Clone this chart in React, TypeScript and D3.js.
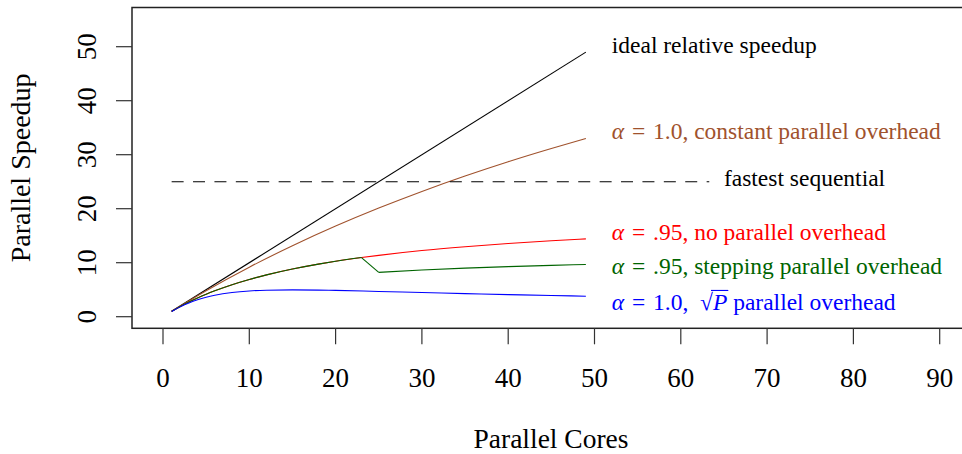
import React, { useRef, useEffect } from 'react';
import * as d3 from 'd3';

// axis ticks
const xTicks = [0, 10, 20, 30, 40, 50, 60, 70, 80, 90];
const yTicks = [0, 10, 20, 30, 40, 50];

// ideal relative speedup
const idealCores = [1, 49];
const idealSpeedup = [1, 49];

// alpha = 1.0, constant parallel overhead
const constCores = [1, 5, 10, 15, 20, 25, 30, 35, 40, 45, 49];
const constSpeedup = [1, 4.81, 9.17, 13.14, 16.78, 20.12, 23.2, 26.05, 28.7, 31.15, 33.0];

// alpha = .95, no parallel overhead
const amdahlCores = [1, 2, 3, 4, 5, 6, 8, 10, 12, 15, 18, 20, 23, 25, 30, 35, 40, 45, 49];
const amdahlSpeedup = [1, 1.9, 2.73, 3.48, 4.17, 4.8, 5.93, 6.9, 7.74, 8.82, 9.73, 10.26, 10.95, 11.36, 12.25, 12.96, 13.56, 14.06, 14.41];

// alpha = .95, stepping parallel overhead (before / after the step)
const stepCoresLow = [1, 2, 3, 4, 5, 6, 8, 10, 12, 15, 18, 20, 23];
const stepSpeedupLow = [1, 1.9, 2.73, 3.48, 4.17, 4.8, 5.93, 6.9, 7.74, 8.82, 9.73, 10.26, 10.95];
const stepCoresHigh = [25, 30, 35, 40, 45, 49];
const stepSpeedupHigh = [8.2, 8.65, 9.0, 9.28, 9.51, 9.67];

// alpha = 1.0, sqrt(P) parallel overhead
const sqrtCores = [1, 2, 3, 4, 5, 6, 8, 10, 12, 15, 18, 20, 25, 30, 35, 40, 45, 49];
const sqrtSpeedup = [0.97, 1.82, 2.54, 3.13, 3.6, 3.97, 4.48, 4.77, 4.91, 4.97, 4.93, 4.87, 4.68, 4.48, 4.28, 4.09, 3.92, 3.8];

// fastest sequential
const seqCores = [1, 63.3];
const seqSpeedup = [25, 25];

const FONT = "'Liberation Serif', 'Times New Roman', serif";

const App = () => {
  const svgRef = useRef<SVGSVGElement>(null);

  useEffect(() => {
    draw();
  }, []);

  const draw = () => {
    const svg = d3.select(svgRef.current);
    svg.selectAll('*').remove();

    const x = d3.scaleLinear().domain([0, 90]).range([163, 939.7]);
    const y = d3.scaleLinear().domain([0, 50]).range([316.7, 46.7]);

    const boxTop = 7.5;
    const boxBottom = 328.3;
    const boxLeft = 132;

    // plot box (right side runs past the picture)
    svg.append('rect')
      .attr('x', boxLeft)
      .attr('y', boxTop)
      .attr('width', 840)
      .attr('height', boxBottom - boxTop)
      .attr('fill', 'none')
      .attr('stroke', '#222')
      .attr('stroke-width', 1.5);

    // x axis ticks + labels
    svg.append('g').selectAll('line')
      .data(xTicks).enter().append('line')
      .attr('x1', d => x(d)).attr('x2', d => x(d))
      .attr('y1', boxBottom).attr('y2', boxBottom + 16)
      .attr('stroke', '#333').attr('stroke-width', 1.2);
    svg.append('g').selectAll('text')
      .data(xTicks).enter().append('text')
      .attr('x', d => x(d)).attr('y', 386.7)
      .attr('text-anchor', 'middle')
      .style('font-family', FONT).style('font-size', '27px')
      .text(d => d);

    // y axis ticks + labels
    svg.append('g').selectAll('line')
      .data(yTicks).enter().append('line')
      .attr('x1', boxLeft - 16).attr('x2', boxLeft)
      .attr('y1', d => y(d)).attr('y2', d => y(d))
      .attr('stroke', '#333').attr('stroke-width', 1.2);
    svg.append('g').selectAll('text')
      .data(yTicks).enter().append('text')
      .attr('transform', d => `translate(96,${y(d)})rotate(-90)`)
      .attr('text-anchor', 'middle')
      .style('font-family', FONT).style('font-size', '27px')
      .text(d => d);

    // axis titles
    svg.append('text')
      .attr('x', 551).attr('y', 448)
      .attr('text-anchor', 'middle')
      .style('font-family', FONT).style('font-size', '27.5px')
      .text('Parallel Cores');
    svg.append('text')
      .attr('transform', `translate(30,${(boxTop + boxBottom) / 2})rotate(-90)`)
      .attr('text-anchor', 'middle')
      .style('font-family', FONT).style('font-size', '28px')
      .text('Parallel Speedup');

    const line = d3.line<[number, number]>()
      .x(d => x(d[0]))
      .y(d => y(d[1]))
      .curve(d3.curveMonotoneX);
    const straight = d3.line<[number, number]>()
      .x(d => x(d[0]))
      .y(d => y(d[1]));

    const zip = (a: number[], b: number[]) => a.map((v, i) => [v, b[i]] as [number, number]);

    const drawCurve = (pts: [number, number][], color: string, gen = line, dash?: string) => {
      const p = svg.append('path')
        .attr('d', gen(pts))
        .attr('fill', 'none')
        .attr('stroke', color)
        .attr('stroke-width', 1.1);
      if (dash) p.attr('stroke-dasharray', dash);
    };

    drawCurve(zip(idealCores, idealSpeedup), 'black', straight);
    drawCurve(zip(constCores, constSpeedup), '#A0522D');
    drawCurve(zip(seqCores, seqSpeedup), 'black', straight, '12,9.4');
    drawCurve(zip(amdahlCores, amdahlSpeedup), 'red');
    const low = zip(stepCoresLow, stepSpeedupLow);
    const high = zip(stepCoresHigh, stepSpeedupHigh);
    drawCurve(low, 'darkgreen');
    drawCurve([low[low.length - 1], high[0]], 'darkgreen', straight);
    drawCurve(high, 'darkgreen');
    drawCurve(zip(sqrtCores, sqrtSpeedup), 'blue');

    // curve labels
    const label = (cx: number, cy: number, color: string, parts: [string, boolean][]) => {
      const t = svg.append('text')
        .attr('x', x(cx)).attr('y', y(cy))
        .attr('fill', color)
        .style('font-family', FONT).style('font-size', '23.5px');
      parts.forEach(([s, it]) => {
        t.append('tspan').style('font-style', it ? 'italic' : 'normal').text(s);
      });
      return t;
    };

    const eq = '\u2004=\u2004';
    label(52, 48.8, 'black', [['ideal relative speedup', false]]);
    label(52, 33, '#A0522D', [['α', true], [eq + '1.0, constant parallel overhead', false]]);
    label(65, 24.2, 'black', [['fastest sequential', false]]);
    label(52, 14.2, 'red', [['α', true], [eq + '.95, no parallel overhead', false]]);
    label(52, 8.0, 'darkgreen', [['α', true], [eq + '.95, stepping parallel overhead', false]]);
    const sq = label(52, 1.25, 'blue', [['α', true], [eq + '1.0,\u2002', false], ['√', false], ['P', true], [' parallel overhead', false]]);

    // overline over P for the square root
    const node = sq.node() as SVGTextElement;
    const pIdx = 10;
    const s0 = node.getStartPositionOfChar(pIdx - 1);
    const e0 = node.getEndPositionOfChar(pIdx - 1);
    const e1 = node.getEndPositionOfChar(pIdx);
    const top = y(1.25) - 19.5;
    svg.append('line')
      .attr('x1', s0.x + (e0.x - s0.x) * 0.85).attr('x2', e1.x + 1)
      .attr('y1', top).attr('y2', top)
      .attr('stroke', 'blue').attr('stroke-width', 1.1);
  };

  return (
    <svg ref={svgRef} width={962} height={454}
      style={{ position: 'absolute', left: 0, top: 0, background: 'white' }} />
  );
};

export default App;
